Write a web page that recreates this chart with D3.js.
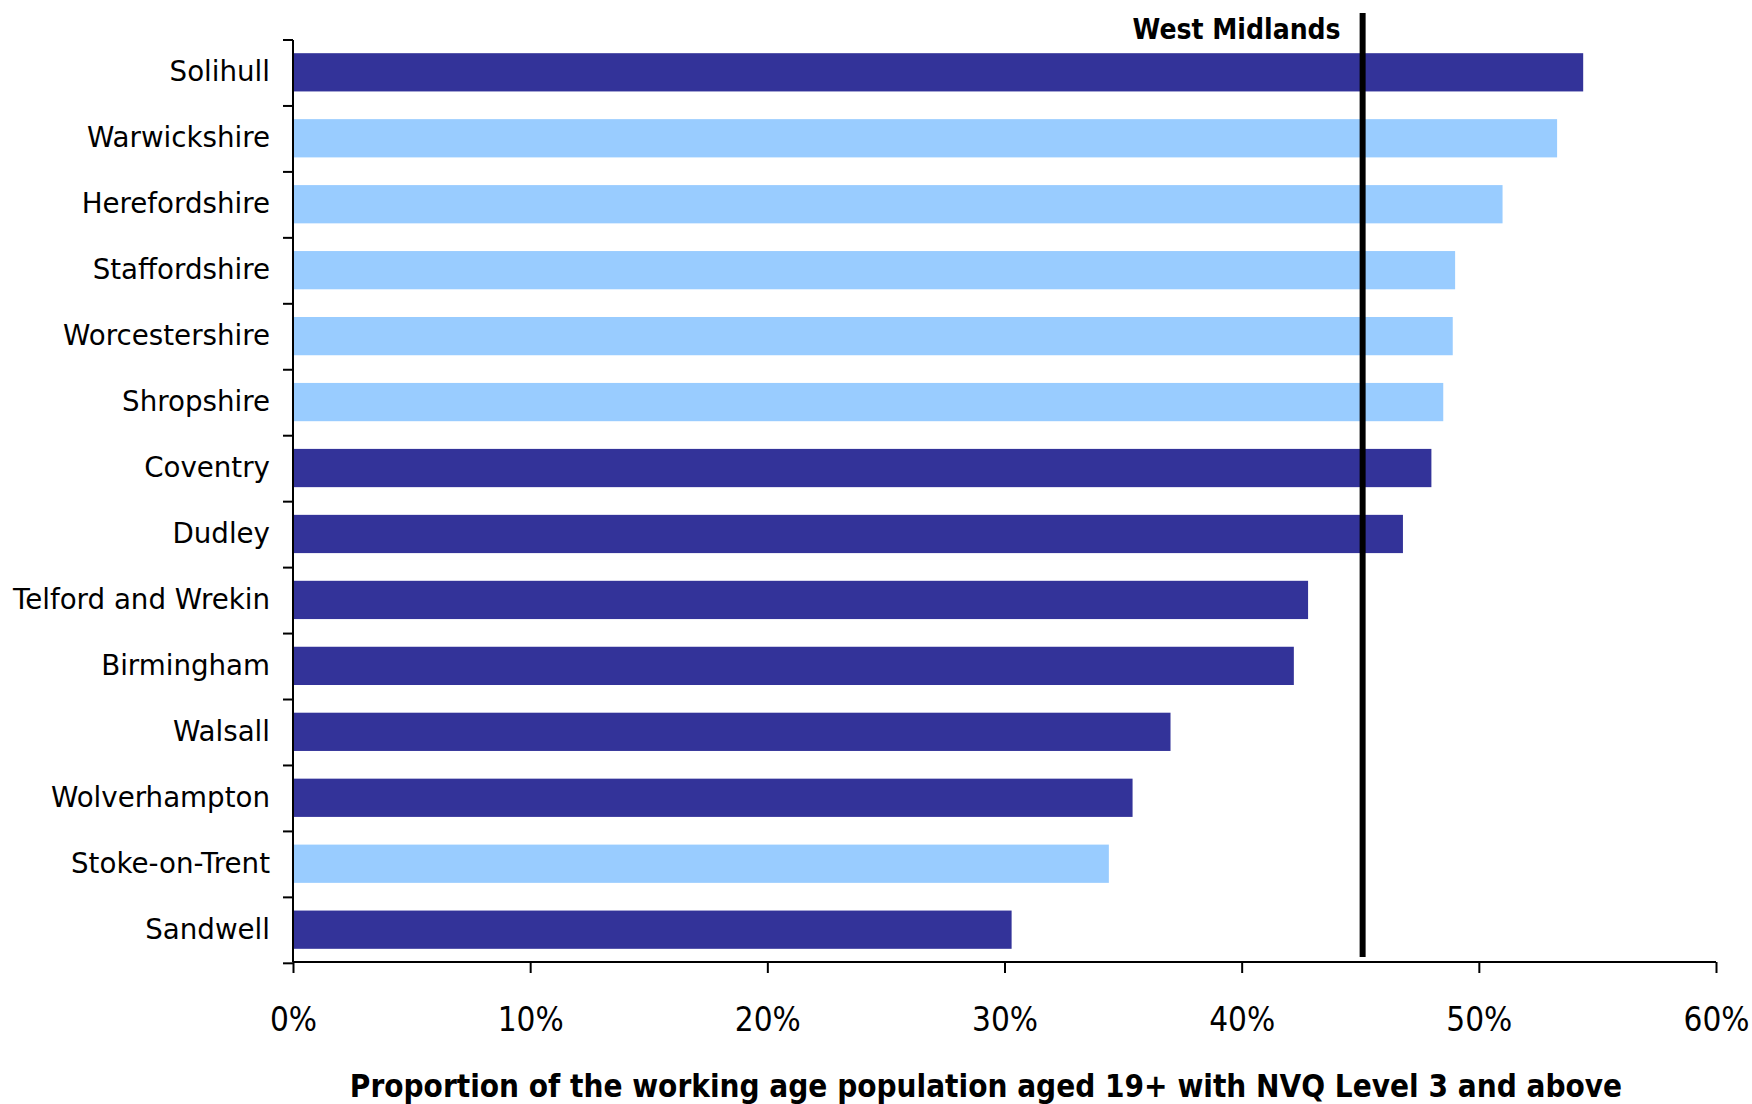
<!DOCTYPE html>
<html>
<head>
<meta charset="utf-8">
<script src="https://cdn.jsdelivr.net/npm/d3@7"></script>
<style>
  html, body { margin: 0; padding: 0; background: #ffffff; }
  svg { display: block; }
</style>
</head>
<body>
<svg id="chart" width="1752" height="1104"></svg>
<script>
// ---- data ----
const categories = ["Solihull", "Warwickshire", "Herefordshire", "Staffordshire", "Worcestershire",
  "Shropshire", "Coventry", "Dudley", "Telford and Wrekin", "Birmingham", "Walsall",
  "Wolverhampton", "Stoke-on-Trent", "Sandwell"];
const values = [54.4, 53.3, 51.0, 49.0, 48.9, 48.5, 48.0, 46.8, 42.8, 42.2, 37.0, 35.4, 34.4, 30.3];
const areaType = ["met", "shire", "shire", "shire", "shire", "shire", "met", "met", "met", "met",
  "met", "met", "shire", "met"];
const referenceLabel = "West Midlands";
const referenceValue = 45.1;
const xTicks = [0, 10, 20, 30, 40, 50, 60];
const xTitle = "Proportion of the working age population aged 19+ with NVQ Level 3 and above";

// ---- layout ----
const plot = { left: 293, right: 1716, top: 40, bottom: 962 };
const colors = { met: "#333399", shire: "#99CCFF" };
const condensed = "'DejaVu Sans Condensed', 'DejaVu Sans', sans-serif";

const svg = d3.select("#chart");

const x = d3.scaleLinear().domain([0, 60]).range([plot.left, plot.right]);
const y = d3.scaleBand().domain(categories).range([plot.top, plot.bottom])
  .paddingInner(0.42).paddingOuter(0.2);

// bars
svg.append("g").selectAll("rect").data(categories).join("rect")
  .attr("x", x(0))
  .attr("y", d => y(d))
  .attr("width", (d, i) => x(values[i]) - x(0))
  .attr("height", y.bandwidth())
  .attr("fill", (d, i) => colors[areaType[i]]);

// reference line
svg.append("line")
  .attr("x1", x(referenceValue)).attr("x2", x(referenceValue))
  .attr("y1", 13).attr("y2", 957)
  .attr("stroke", "#000").attr("stroke-width", 6);

svg.append("text")
  .attr("x", x(referenceValue) - 22).attr("y", 39)
  .attr("text-anchor", "end")
  .style("font-family", condensed)
  .style("font-stretch", "condensed")
  .style("font-weight", "bold")
  .style("font-size", "28px")
  .attr("fill", "#000")
  .text(referenceLabel);

// y axis (category boundaries as ticks)
const step = y.step();
const yAxisG = svg.append("g");
yAxisG.append("line")
  .attr("x1", plot.left).attr("x2", plot.left)
  .attr("y1", plot.top).attr("y2", plot.bottom)
  .attr("stroke", "#000").attr("stroke-width", 2);
yAxisG.selectAll("line.tick").data(d3.range(categories.length + 1)).join("line")
  .attr("class", "tick")
  .attr("x1", plot.left - 10).attr("x2", plot.left)
  .attr("y1", i => plot.top + i * step).attr("y2", i => plot.top + i * step)
  .attr("stroke", "#000").attr("stroke-width", 2);
yAxisG.selectAll("text").data(categories).join("text")
  .attr("x", 270)
  .attr("y", d => y(d) + y.bandwidth() / 2 + 9)
  .attr("text-anchor", "end")
  .style("font-family", "'DejaVu Sans', sans-serif")
  .style("font-size", "27.7px")
  .attr("fill", "#000")
  .text(d => d);

// x axis
const xAxis = d3.axisBottom(x).tickValues(xTicks).tickSize(11).tickPadding(0)
  .tickFormat(d => d + "%");
const xg = svg.append("g").attr("transform", `translate(0,${plot.bottom})`).call(xAxis);
xg.select(".domain").attr("stroke", "#000").attr("stroke-width", 2)
  .attr("d", `M${plot.left},0H${plot.right}`);
xg.selectAll(".tick line").attr("stroke", "#000").attr("stroke-width", 2);
xg.selectAll(".tick text")
  .attr("y", 69).attr("dy", null)
  .style("font-family", condensed)
  .style("font-stretch", "condensed")
  .style("font-size", "33px")
  .attr("fill", "#000");

// x title
svg.append("text")
  .attr("x", 986).attr("y", 1097)
  .attr("text-anchor", "middle")
  .style("font-family", condensed)
  .style("font-stretch", "condensed")
  .style("font-weight", "bold")
  .style("font-size", "31.2px")
  .attr("fill", "#000")
  .text(xTitle);
</script>
</body>
</html>
